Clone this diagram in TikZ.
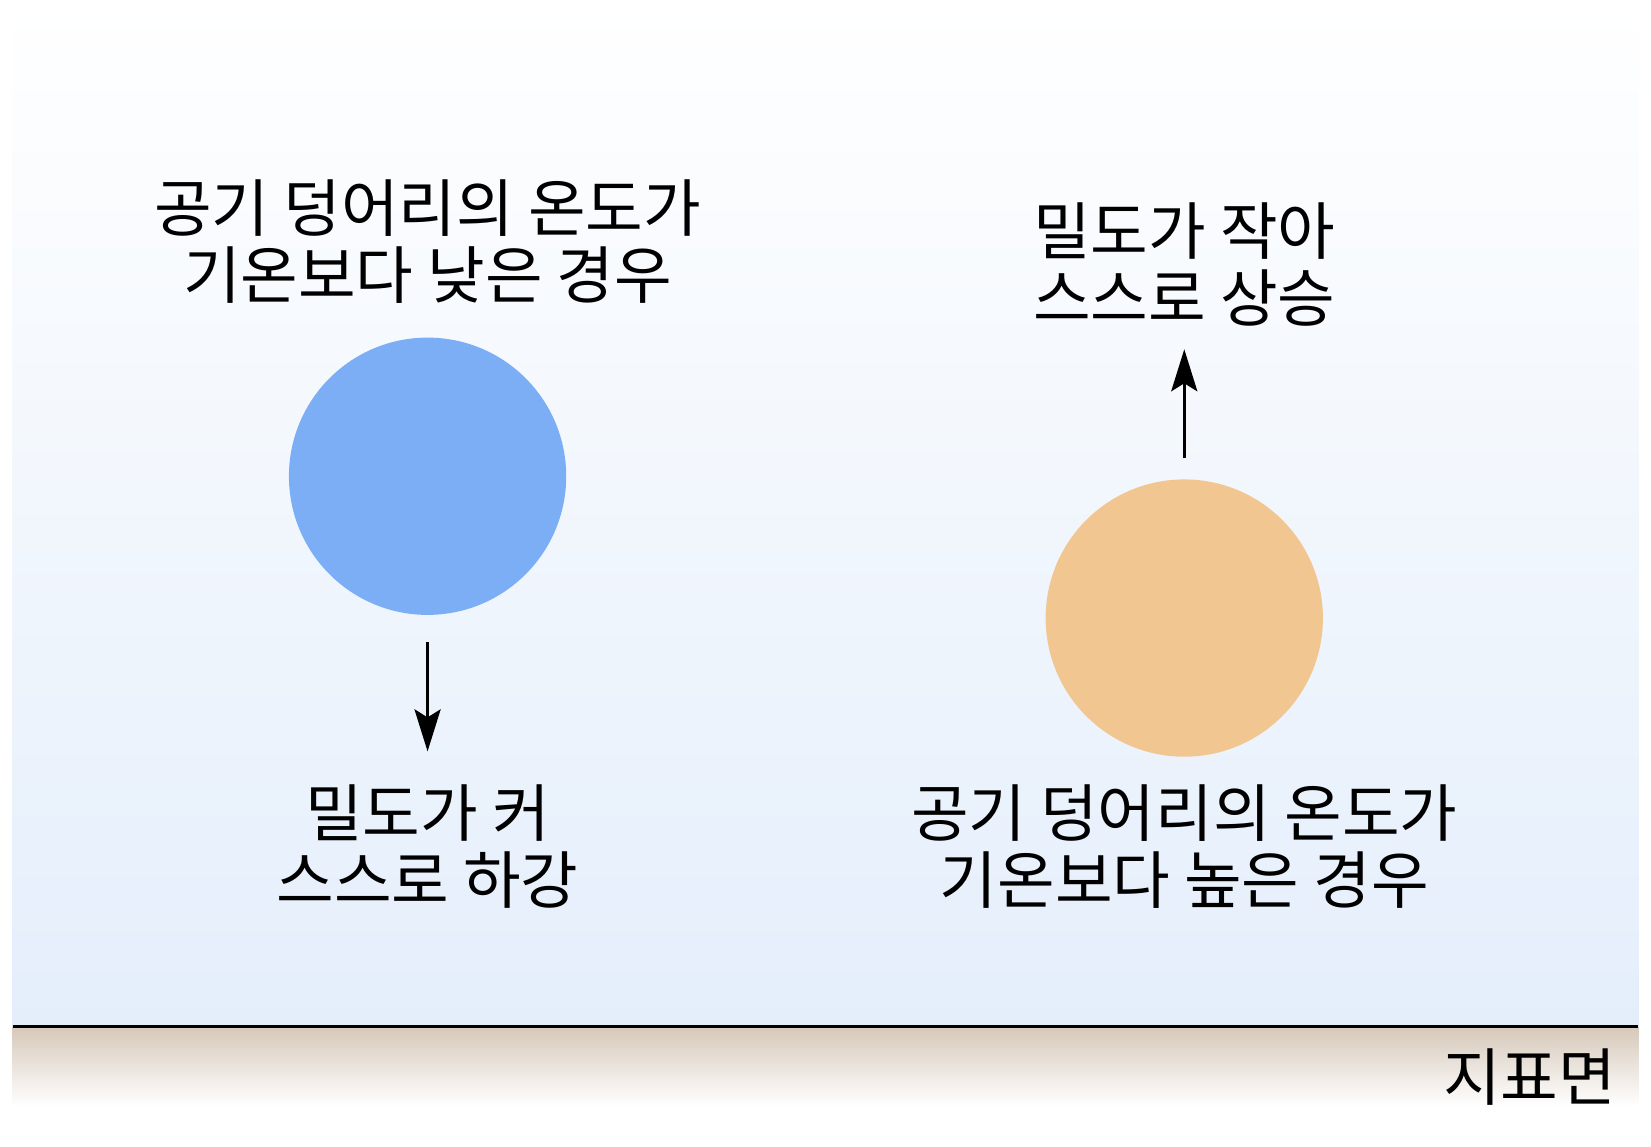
\documentclass[tikz,border=0pt]{standalone}
\usepackage{fontspec}
\setmainfont{Noto Sans CJK KR}
\usetikzlibrary{arrows.meta}
\definecolor{coldair}{RGB}{123,174,245}
\definecolor{warmair}{RGB}{242,198,144}
\definecolor{skylow}{RGB}{228,238,251}
\definecolor{soil}{RGB}{214,200,186}
\tikzset{every picture/.style={line width=1pt},
  label/.style={align=center,font=\fontsize{31.3}{33.5}\selectfont,inner sep=0pt},
  parcel/.style={circle,minimum size=138.6pt,inner sep=0pt},
  move/.style={-{Stealth[length=21pt,width=13pt,inset=4pt]},line width=1.6pt}}
\begin{document}
\begin{tikzpicture}[x=0.529pt,y=0.529pt,yscale=-1,xscale=1]
	\useasboundingbox (0,0) rectangle (1560,1083);
	%Sky and ground
	\shade [top color=white,bottom color=skylow] (12,0) rectangle (1548,970);
	\shade [top color=soil,bottom color=white] (12,970) rectangle (1548,1045);
	\draw [line width=1.2pt] (12,970) -- (1548,970);
	
	%Air parcels
	\node [parcel,fill=coldair] (cold) at (404,450) {};
	\node [parcel,fill=warmair] (warm) at (1119,584) {};
	\coordinate (down) at (404,710);
	\coordinate (up) at (1119,330);
	\draw [move] (404,607) -- (down);
	\draw [move] (1119,433) -- (up);
	
	% Text Node
	\node [label] (coldtxt) at (404,228) {공기 덩어리의 온도가\\기온보다 낮은 경우};
	\node [label] (rise) at (1119,250) {밀도가 작아\\스스로 상승};
	\node [label] (sink) at (404,800) {밀도가 커\\스스로 하강};
	\node [label] (warmtxt) at (1119,800) {공기 덩어리의 온도가\\기온보다 높은 경우};
	\node [label,anchor=east] (ground) at (1528,1018) {지표면};
\end{tikzpicture}
\end{document}
